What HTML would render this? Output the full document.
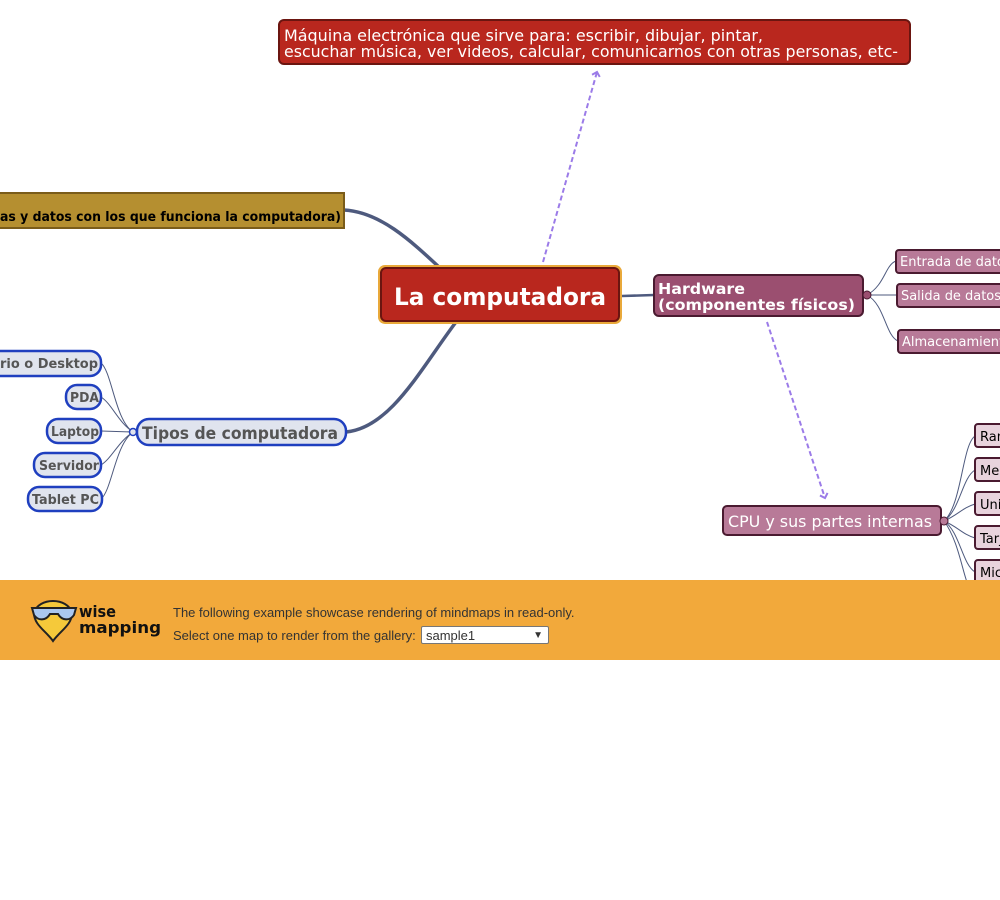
<!DOCTYPE html>
<html><head><meta charset="utf-8"><style>
html,body{margin:0;padding:0;background:#fff;width:1000px;height:900px;overflow:hidden}
svg{position:absolute;left:0;top:0}
text{font-family:"DejaVu Sans","Liberation Sans",sans-serif}
.foot{position:absolute;left:0;top:580px;width:1000px;height:80px;background:#f2a93b;font-family:"Liberation Sans",sans-serif;font-size:13px;color:#333}
</style></head><body>
<svg width="1000" height="580" viewBox="0 0 1000 580">
<defs>
<marker id="ah" markerWidth="10" markerHeight="10" refX="5" refY="5" orient="auto" markerUnits="userSpaceOnUse">
<path d="M1,1 L5,5 L1,9" fill="none" stroke="#9b7be8" stroke-width="2"/></marker>
</defs>
<path d="M344,210 C380,212 410,240 440,268" stroke="#4e5a7e" stroke-width="3.5" fill="none"/>
<path d="M346,432 C390,428 420,370 456,322" stroke="#4e5a7e" stroke-width="3.5" fill="none"/>
<path d="M622,296 L654,295" stroke="#4e5a7e" stroke-width="2.5" fill="none"/>
<path d="M543,262 L597,72" stroke="#9b7be8" stroke-width="2" stroke-dasharray="5,3" fill="none" marker-end="url(#ah)"/>
<path d="M767,322 L825,498" stroke="#9b7be8" stroke-width="2" stroke-dasharray="5,3" fill="none" marker-end="url(#ah)"/>
<rect x="279" y="20" width="631" height="44" rx="5" fill="#b9271e" stroke="#6b1510" stroke-width="2"/>
<text x="284" y="41" font-size="16" fill="#fff" textLength="479" lengthAdjust="spacingAndGlyphs">Máquina electrónica que sirve para: escribir, dibujar, pintar,</text>
<text x="284" y="57" font-size="16" fill="#fff" textLength="614" lengthAdjust="spacingAndGlyphs">escuchar música, ver videos, calcular, comunicarnos con otras personas, etc-</text>
<rect x="378" y="265" width="244" height="59" rx="7" fill="#e9a93a"/>
<rect x="381" y="268" width="238" height="53" rx="5" fill="#b9271e" stroke="#6b1510" stroke-width="2"/>
<text x="394" y="305" font-size="24" font-weight="bold" fill="#fff" textLength="212" lengthAdjust="spacingAndGlyphs">La computadora</text>
<rect x="-10" y="193" width="354" height="35" fill="#b58f30" stroke="#7a5c1a" stroke-width="2"/>
<text x="0" y="221" font-size="13" font-weight="bold" fill="#000" textLength="341" lengthAdjust="spacingAndGlyphs">as y datos con los que funciona la computadora)</text>
<g stroke="#4e5a7e" stroke-width="1" fill="none">
<path d="M133,432 C115,420 112,372 101,363"/>
<path d="M133,432 C118,422 112,404 101,397"/>
<path d="M133,432 L101,431"/>
<path d="M133,432 C118,442 112,458 101,465"/>
<path d="M133,432 C115,445 112,490 101,499"/>
</g>
<circle cx="133" cy="432" r="3.5" fill="#e0e4ee" stroke="#1f3fbf" stroke-width="1.5"/>
<g fill="#e0e4ee" stroke="#1f3fbf" stroke-width="2.5">
<rect x="-20" y="351" width="121" height="25" rx="11"/>
<rect x="66" y="385" width="35" height="24" rx="11"/>
<rect x="47" y="419" width="54" height="24" rx="11"/>
<rect x="34" y="453" width="67" height="24" rx="11"/>
<rect x="28" y="487" width="74" height="24" rx="11"/>
<rect x="137" y="419" width="209" height="26" rx="12"/>
</g>
<g font-size="13" font-weight="bold" fill="#555" lengthAdjust="spacingAndGlyphs">
<text x="0" y="368" textLength="98" lengthAdjust="spacingAndGlyphs">rio o Desktop</text>
<text x="70" y="402" textLength="29" lengthAdjust="spacingAndGlyphs">PDA</text>
<text x="51" y="436" textLength="48" lengthAdjust="spacingAndGlyphs">Laptop</text>
<text x="39" y="470" textLength="60" lengthAdjust="spacingAndGlyphs">Servidor</text>
<text x="32" y="504" textLength="67" lengthAdjust="spacingAndGlyphs">Tablet PC</text>
</g>
<text x="142" y="439" font-size="17" font-weight="bold" fill="#555" textLength="196" lengthAdjust="spacingAndGlyphs">Tipos de computadora</text>
<g stroke="#4e5a7e" stroke-width="1" fill="none">
<path d="M867,295 C885,285 885,265 896,261"/>
<path d="M867,295 L897,295"/>
<path d="M867,295 C885,305 885,335 898,341"/>
</g>
<rect x="654" y="275" width="209" height="41" rx="5" fill="#9b4f70" stroke="#4a1a30" stroke-width="2"/>
<text x="658" y="294" font-size="15" font-weight="bold" fill="#fff" textLength="87" lengthAdjust="spacingAndGlyphs">Hardware</text>
<text x="658" y="310" font-size="15" font-weight="bold" fill="#fff" textLength="197" lengthAdjust="spacingAndGlyphs">(componentes físicos)</text>
<circle cx="867" cy="295" r="4" fill="#9b4f70" stroke="#4a1a30"/>
<g fill="#b87a98" stroke="#4a1a30" stroke-width="2">
<rect x="896" y="250" width="120" height="23" rx="3"/>
<rect x="897" y="284" width="120" height="23" rx="3"/>
<rect x="898" y="330" width="120" height="23" rx="3"/>
</g>
<g font-size="13" fill="#fff">
<text x="900" y="266">Entrada de datos</text>
<text x="901" y="300" textLength="100" lengthAdjust="spacingAndGlyphs">Salida de datos</text>
<text x="902" y="346">Almacenamiento</text>
</g>
<g stroke="#4e5a7e" stroke-width="1" fill="none">
<path d="M944,521 C962,505 962,445 975,436"/>
<path d="M944,521 C960,510 962,478 975,470"/>
<path d="M944,521 C958,515 962,508 975,504"/>
<path d="M944,521 C958,527 962,534 975,538"/>
<path d="M944,521 C960,532 962,564 975,572"/>
<path d="M944,521 C958,540 962,570 968,585"/>
</g>
<rect x="723" y="506" width="218" height="29" rx="4" fill="#b87a98" stroke="#4a1a30" stroke-width="2"/>
<text x="728" y="527" font-size="16" fill="#fff" textLength="204" lengthAdjust="spacingAndGlyphs">CPU y sus partes internas</text>
<circle cx="944" cy="521" r="4" fill="#b87a98" stroke="#4a1a30"/>
<g fill="#e8d3dd" stroke="#4a1a30" stroke-width="2">
<rect x="975" y="424" width="60" height="23" rx="3"/>
<rect x="975" y="458" width="60" height="23" rx="3"/>
<rect x="975" y="492" width="60" height="23" rx="3"/>
<rect x="975" y="526" width="60" height="23" rx="3"/>
<rect x="975" y="560" width="60" height="23" rx="3"/>
</g>
<g font-size="13" fill="#000">
<text x="980" y="441">Ram</text>
<text x="980" y="475">Memoria</text>
<text x="980" y="509">Unidad</text>
<text x="980" y="543">Tarjeta</text>
<text x="980" y="577">Micro</text>
</g>
</svg>
<div class="foot">
<svg width="140" height="60" style="position:absolute;left:30px;top:15px" viewBox="0 0 140 60">
<path d="M4,18 C8,2 38,2 42,18 C42,30 30,36 23,46 C16,36 4,30 4,18 Z" fill="#f5c93a" stroke="#222" stroke-width="2"/>
<path d="M2,13 L46,13 L44,20 C40,26 32,26 28,19 L20,19 C16,26 8,26 4,20 Z" fill="#aac8f0" stroke="#222" stroke-width="2"/>
<text x="49" y="22" font-size="16" font-weight="bold" fill="#111" textLength="37" lengthAdjust="spacingAndGlyphs">wise</text>
<text x="49" y="38" font-size="16" font-weight="bold" fill="#111" textLength="82" lengthAdjust="spacingAndGlyphs">mapping</text>
</svg>
<div style="position:absolute;left:173px;top:25px">The following example showcase rendering of mindmaps in read-only.</div>
<div style="position:absolute;left:173px;top:48px">Select one map to render from the gallery:</div>
<div style="position:absolute;left:421px;top:46px;height:18px;background:#fff;border:1px solid #777;border-radius:2px;font-size:13px;line-height:17px;padding-left:4px;box-sizing:border-box;width:128px">sample1<span style="position:absolute;right:5px;top:0;font-size:10px">&#9660;</span></div>
</div>
</body></html>
